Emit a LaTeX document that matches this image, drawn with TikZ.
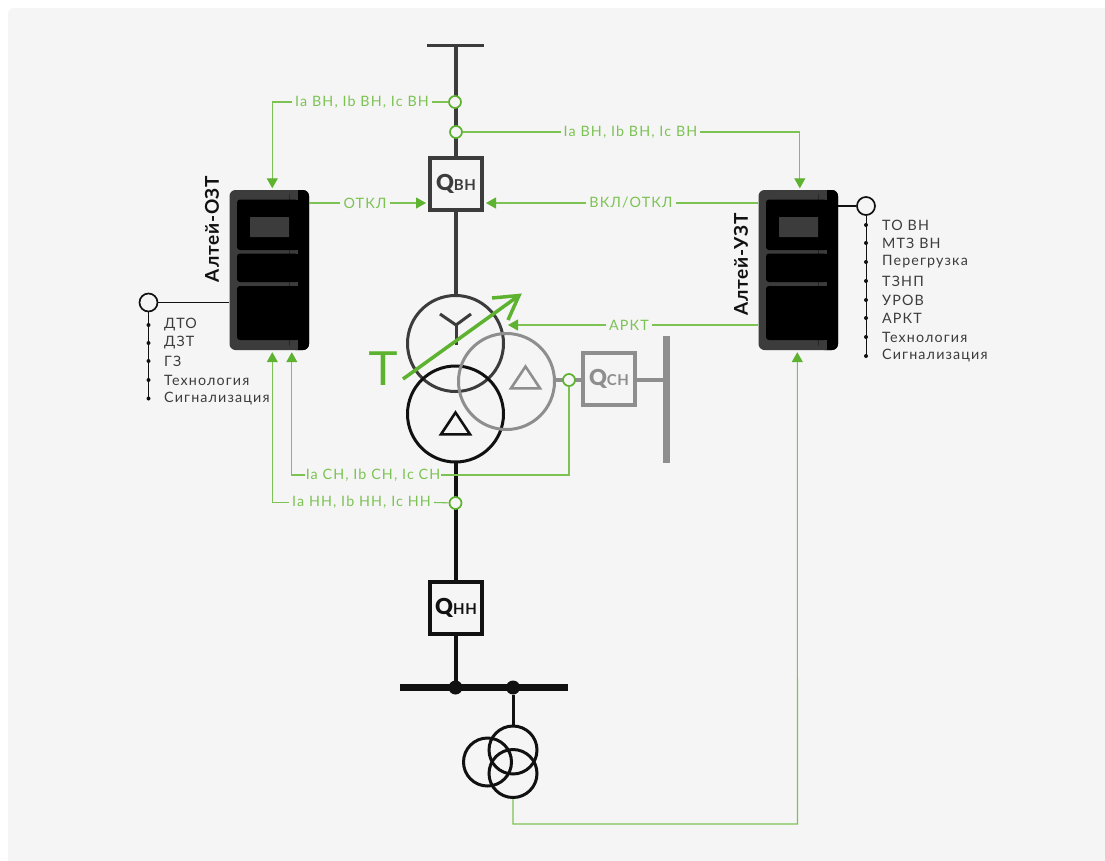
\documentclass[tikz,border=0pt]{standalone}
\usepackage{fontspec}
\setmainfont{Lato}
\newfontfamily\lblfont[LetterSpace=8]{Lato}
\newfontfamily\boldfont[LetterSpace=4]{Lato Bold}
\newfontfamily\qfont[LetterSpace=4]{Lato Black}
\usetikzlibrary{arrows.meta,calc}
\definecolor{panel}{HTML}{F5F5F5}
\definecolor{grn}{HTML}{7CC353}
\definecolor{grnd}{HTML}{5DB22F}
\definecolor{dk}{HTML}{3C3C3C}
\definecolor{blk}{HTML}{111111}
\definecolor{gry}{HTML}{8E8E8E}
\tikzset{
 x=1pt,y=-1pt,
 sig/.style={draw=grn,line width=1.1pt},
 sigarrow/.style={sig,-{Triangle[length=10pt,width=11pt,fill=grnd,color=grnd]}},
 ring/.style={circle,draw=grnd,fill=panel,line width=1.7pt,minimum size=12pt,inner sep=0pt},
 sigl/.style={text=grn,font=\fontsize{14.3}{15}\lblfont,inner sep=0pt},
 lst/.style={text=dk,font=\fontsize{14.3}{15}\lblfont,anchor=west,inner sep=0pt},
 term/.style={circle,draw=blk,fill=panel,line width=1.7pt,minimum size=18pt,inner sep=0pt},
 wind/.style={circle,line width=3pt,minimum size=96pt,inner sep=0pt},
 small/.style={circle,draw=blk,line width=3pt,minimum size=48pt,inner sep=0pt},
 brk/.style={draw=#1,text=#1,fill=panel,line width=4pt,minimum size=52pt,inner sep=0pt,font=\fontsize{22}{22}\qfont},
 dotm/.style={circle,fill=blk,minimum size=4pt,inner sep=0pt},
 busd/.style={circle,fill=blk,minimum size=14pt,inner sep=0pt},
 devname/.style={rotate=90,font=\fontsize{19}{20}\boldfont,text=blk,inner sep=0pt},
}
\newcommand{\qlabel}[1]{Q{\fontsize{15}{15}\boldfont #1}}
\newcommand{\relay}[2]{%
 \node[draw=none,fill=dk,rounded corners=6pt,minimum width=79.5pt,minimum height=160pt,inner sep=0pt] (#2) at (#1,270) {};
 \begin{scope}[shift={(#1-39.75,190)}]
  \fill[black,rounded corners=6pt] (60,0) rectangle (79.5,160);
  \fill[dk] (60,0) rectangle (68.5,160);
  \fill[black,rounded corners=3pt] (7.5,9.5) -- (68.5,9.5) -- (68.5,60) -- (7.5,60) -- cycle;
  \fill[black,rounded corners=3pt] (7.5,63.5) -- (68.5,63.5) -- (68.5,92) -- (7.5,92) -- cycle;
  \fill[black,rounded corners=3pt] (7.5,96) -- (68.5,96) -- (68.5,150) -- (7.5,150) -- cycle;
  \fill[black] (60,9.5) rectangle (68.5,60);
  \fill[black] (60,63.5) rectangle (68.5,92);
  \fill[black] (60,96) rectangle (68.5,150);
  \fill[dk,rounded corners=0.5pt] (20.5,27) rectangle (59.5,47);
 \end{scope}}
\begin{document}
\begin{tikzpicture}
\useasboundingbox (0,0) rectangle (1105,860);
\fill[white] (0,0) rectangle (1105,860);
\fill[panel,rounded corners=6pt] (8,8) rectangle (1125,880);

% power lines, behind the equipment
\coordinate (bustop) at (455.5,45.5);
\draw[dk,line width=3.5pt] (427,45.5) -- (484,45.5);
\coordinate (wt) at (455.5,295);
\draw[dk,line width=4pt] (bustop) -- (wt);
\draw[blk,line width=4pt] (455.5,463) -- (455.5,687.5);
\draw[gry,line width=4pt] (556,380) -- (666,380);
\draw[gry,line width=7pt] (666,336) -- (666,463);
\draw[blk,line width=7pt] (400,687.5) -- (568,687.5);
\node[busd] (d1) at (455.5,687.5) {};
\node[busd] (d2) at (513,687.5) {};
\node[small] (tv1) at (513,750) {};
\node[small] (tv2) at (513,773.5) {};
\node[small] (tv3) at (487.5,762) {};
\draw[blk,line width=3pt] (d2) -- (tv1.north);

% breakers
\node[brk=dk] (qvn) at (456,184) {\qlabel{ВН}};
\node[brk=blk] (qnn) at (456,608) {\qlabel{НН}};
\node[brk=gry] (qsn) at (609,379) {\qlabel{СН}};

% transformer
\node[wind,draw=dk] (w1) at (455.5,343.5) {};
\node[wind,draw=blk] (w2) at (455.5,414) {};
\node[wind,draw=gry] (w3) at (506.5,381.5) {};
\draw[dk,line width=3pt,line join=miter] (440,314) -- (456,325) -- (471,314);
\draw[dk,line width=3pt] (456,325) -- (456,345);
\draw[blk,line width=2.6pt,line join=miter] (455.5,412.5) -- (470,434.3) -- (441,434.3) -- cycle;
\draw[gry,line width=2.6pt,line join=miter] (525.5,366.5) -- (540,388.3) -- (511,388.3) -- cycle;
\coordinate (ta) at (403,379);
\coordinate (tb) at (519,295.5);
\draw[grnd,line width=3.5pt] (ta) -- (tb);
\draw[grnd,line width=3.5pt,line join=miter] (492,298) -- (tb) -- (508,320);
\node[text=grnd,font=\fontsize{49}{50}\selectfont\fontspec{Liberation Sans},inner sep=0pt] (tlet) at (383,369) {T};

% relays
\relay{269.25}{ozt}
\relay{798.25}{uzt}
\node[devname] (ozn) at (212,229) {Алтей-ОЗТ};
\node[devname] (uzn) at (741,264.5) {Алтей-УЗТ};

% measuring points
\node[ring] (r1) at (455,102) {};
\node[ring] (r2) at (456,132) {};
\node[ring] (r3) at (569,380) {};
\node[ring] (r4) at (455.5,503) {};

% signal labels
\node[sigl] (l1) at (362,102) {Ia ВН, Ib ВН, Ic ВН};
\node[sigl] (l2) at (630.5,132) {Ia ВН, Ib ВН, Ic ВН};
\node[sigl] (l3) at (365,203) {ОТКЛ};
\node[sigl] (l4) at (631,203) {ВКЛ/ОТКЛ};
\node[sigl] (l5) at (629,325) {АРКТ};
\node[sigl] (l6) at (373,475) {Ia СН, Ib СН, Ic СН};
\node[sigl] (l7) at (361.5,502.5) {Ia НН, Ib НН, Ic НН};

% signal connectors
\draw[sig] (r1) -- ([xshift=3pt]l1.east);
\draw[sigarrow] ([xshift=-3pt]l1.west) -| ($(ozt.north west)+(43,-1.5)$);
\draw[sig] (r2) -- ([xshift=-3pt]l2.west);
\draw[sigarrow] ([xshift=3pt]l2.east) -| ($(uzt.north west)+(41.5,-1.5)$);
\draw[sig] (ozt.east |- l3) -- ([xshift=-3pt]l3.west);
\draw[sigarrow] ([xshift=3pt]l3.east) -- ($(qvn.west |- l3)+(-2,0)$);
\draw[sig] (uzt.west |- l4) -- ([xshift=3pt]l4.east);
\draw[sigarrow] ([xshift=-3pt]l4.west) -- ($(qvn.east |- l4)+(2,0)$);
\draw[sig] (uzt.west |- l5) -- ([xshift=3pt]l5.east);
\coordinate (arktend) at (508,325);
\draw[sigarrow] ([xshift=-3pt]l5.west) -- (arktend);
\draw[sig] (r3) |- ([xshift=1pt]l6.east);
\draw[sigarrow] ([xshift=-1pt]l6.west) -| ($(ozt.south west)+(62.5,2)$);
\draw[sig] (r4) -- ([xshift=3pt]l7.east);
\draw[sigarrow] ([xshift=-3pt]l7.west) -| ($(ozt.south west)+(43,2)$);
\draw[sigarrow] (tv2.south) |- (797.5,824) -- ($(uzt.south west)+(39,2)$);

% left terminal
\node[term] (tl) at (148.5,302.5) {};
\draw[blk,line width=1.6pt] (tl) -- (ozt.west |- tl);
\coordinate (tle) at (148.5,399);
\draw[blk,line width=1pt] (tl) -- (tle);
\foreach \y/\t/\n in {325/ДТО/a,343/ДЗТ/b,361/ГЗ/c,380/Технология/d,398.5/Сигнализация/e}{
 \node[dotm] (dl\n) at (148.5,\y) {};
 \node[lst] (tl\n) at (164,\y) {\t};
}
% right terminal
\node[term] (tr) at (866,206) {};
\draw[blk,line width=1.6pt] (tr) -- (uzt.east |- tr);
\coordinate (tre) at (866,356);
\draw[blk,line width=1pt] (tr) -- (tre);
\foreach \y/\t/\n in {225/ТО ВН/a,243/МТЗ ВН/b,262/Перегрузка/c,281/ТЗНП/d,300/УРОВ/e,318/АРКТ/f,337/Технология/g,356/Сигнализация/h}{
 \node[dotm] (dr\n) at (866,\y) {};
 \node[lst] (tr\n) at (882,\y) {\t};
}
\end{tikzpicture}
\end{document}
